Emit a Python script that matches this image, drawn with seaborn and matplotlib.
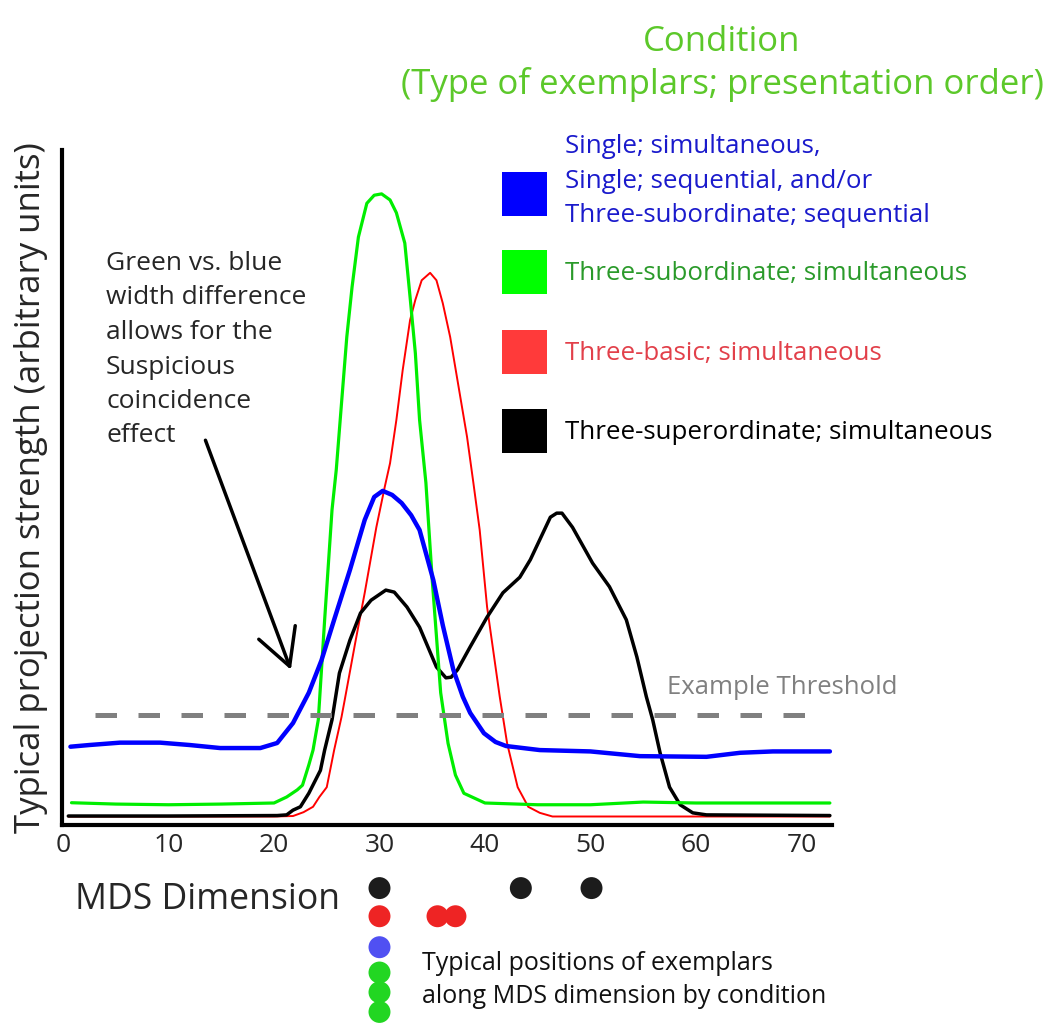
import numpy as np
import pandas as pd
import matplotlib
matplotlib.use("Agg")
import matplotlib.pyplot as plt
import seaborn as sns
from matplotlib.patches import Patch, Rectangle
from matplotlib.legend_handler import HandlerPatch

sns.set_style("white")
plt.rcParams['font.family'] = ['Open Sans', 'DejaVu Sans']

# Curves (MDS dimension vs projection strength, arbitrary units 0-100)
blue_x = [0.7, 2.5, 5.4, 9.2, 12, 14.9, 18.7, 20.3, 21.8, 23.3, 24.5, 25.7, 27.2, 28.6, 29.5,
          30.3, 31.2, 32.1, 33.0, 33.8, 35.1, 36.0, 37.0, 37.9, 38.6, 39.9, 41.0, 42.0, 45.2,
          50, 54.7, 61, 64.2, 67.3, 72.7]
blue_y = [11.6, 11.85, 12.2, 12.2, 11.85, 11.4, 11.4, 12.15, 15.1, 19.6, 24.4, 30.4, 37.8, 45.2, 48.6,
          49.5, 48.9, 47.7, 45.9, 43.7, 36.3, 29.6, 23.0, 19.0, 16.6, 13.6, 12.3, 11.7, 11.1,
          10.9, 10.2, 10.1, 10.7, 10.9, 10.9]

green_x = [0.8, 5, 10, 15, 20, 21.2, 22.2, 22.7, 23.3, 23.7, 24.2, 24.8, 25.5, 25.9, 26.4, 26.9,
           27.4, 28.0, 28.8, 29.5, 30.2, 31.0, 31.6, 32.4, 32.9, 33.4, 33.8, 34.4, 35.0, 35.8,
           36.5, 37.2, 38.0, 40, 45, 50, 55, 60, 72.7]
green_y = [3.3, 3.1, 3.0, 3.1, 3.26, 4.15, 5.2, 5.9, 8.9, 11.1, 15.6, 30.4, 46.7, 52.6, 62.5, 72.3,
           79.7, 87.1, 92.1, 93.3, 93.5, 92.6, 90.7, 86.2, 78.2, 69.9, 60.0, 50.7, 36.3, 19.6,
           12.1, 7.4, 4.7, 3.26, 3.0, 3.0, 3.4, 3.26, 3.26]

red_x = [0.5, 10, 20, 21.8, 22.8, 23.7, 24.3, 25.0, 25.7, 26.4, 26.7, 27.7, 28.6, 29.7, 30.5,
         31.0, 31.6, 32.2, 32.9, 33.4, 34.0, 34.8, 35.4, 36.0, 36.7, 37.5, 38.3, 38.9, 39.5,
         40.2, 41.4, 42.1, 43.1, 44.1, 45.2, 46.4, 60, 72.7]
red_y = [1.26, 1.26, 1.26, 1.33, 1.9, 2.7, 4.15, 5.6, 11.1, 16.0, 18.5, 27.0, 34.4, 44.1, 50.1,
         53.6, 60.0, 67.4, 74.8, 77.8, 80.7, 81.8, 80.7, 77.3, 72.3, 64.9, 57.5, 50.7, 43.7,
         32.3, 19.0, 12.1, 5.6, 2.7, 1.8, 1.26, 1.26, 1.26]

black_x = [0.5, 10, 20.3, 21.2, 21.8, 22.5, 23.3, 24.4, 24.8, 25.5, 26.2, 27.2, 28.2, 29.2, 30.6,
           31.4, 32.6, 33.8, 35.4, 36.3, 36.8, 37.4, 38.6, 40.2, 41.7, 43.3, 44.3, 46.2, 46.8,
           47.3, 48.3, 50.2, 51.8, 53.4, 54.4, 55.3, 55.9, 56.6, 57.5, 58.5, 59.7, 61, 72.7]
black_y = [1.33, 1.33, 1.4, 1.5, 2.2, 2.7, 4.7, 8.1, 11.1, 15.6, 22.5, 27.4, 31.4, 33.3, 34.8,
           34.5, 32.3, 29.3, 23.4, 21.8, 21.9, 23.0, 26.4, 30.8, 34.4, 36.7, 39.3, 45.6, 46.2,
           46.2, 44.1, 38.8, 35.3, 30.4, 24.9, 19.0, 15.6, 10.7, 5.6, 3.0, 1.8, 1.5, 1.4]

threshold = 16.3
threshold_span = (3.0, 71.0)

# Typical exemplar positions per condition (rows below the x axis)
dot_x = [30, 43.4, 50.1, 30, 35.5, 37.2, 30, 30, 30, 30]
dot_row = [0, 0, 0, 1, 1, 1, 2.1, 3.0, 3.7, 4.4]
dot_cond = ['black', 'black', 'black', 'red', 'red', 'red', 'blue', 'green', 'green', 'green']
dot_colors = {'black': '#1c1c1c', 'red': '#ee2424', 'blue': '#5050f2', 'green': '#22d622'}

legend_labels = ['Single; simultaneous,\nSingle; sequential, and/or\nThree-subordinate; sequential',
                 'Three-subordinate; simultaneous',
                 'Three-basic; simultaneous',
                 'Three-superordinate; simultaneous']
legend_colors = ['#0000ff', '#00ff00', '#ff3a3a', '#000000']
legend_text_colors = ['#1a1acc', '#2a9a2a', '#e2404a', '#000000']

fig = plt.figure(figsize=(10.5, 10.24), dpi=100)
ax = fig.add_axes([62 / 1050, 199 / 1024, 770 / 1050, 675 / 1024])

sns.lineplot(x=red_x, y=red_y, ax=ax, color='#ff0000', lw=1.4, sort=False)
sns.lineplot(x=black_x, y=black_y, ax=ax, color='black', lw=2.5, sort=False)
sns.lineplot(x=green_x, y=green_y, ax=ax, color='#00ee00', lw=2.3, sort=False)
sns.lineplot(x=blue_x, y=blue_y, ax=ax, color='#0000ff', lw=3.2, sort=False)

ax.hlines(threshold, threshold_span[0], threshold_span[1], colors='#808080', lw=3.6,
          linestyles=(0, (4.3, 4.3)))
ax.text(57.3, threshold + 4.1, 'Example Threshold', color='#808080', fontsize=18.5,
        va='center', ha='left', clip_on=False)

ax.set_xlim(-0.1, 72.9)
ax.set_ylim(0, 100)
ax.set_xticks(range(0, 80, 10))
ax.set_yticks([])
ax.tick_params(axis='x', direction='in', length=8, width=2, labelsize=19, pad=6)
for s in ['top', 'right']:
    ax.spines[s].set_visible(False)
for s in ['left', 'bottom']:
    ax.spines[s].set_linewidth(3)
    ax.spines[s].set_color('black')
ax.set_xlabel('')
ax.set_ylabel('Typical projection strength (arbitrary units)', fontsize=25, labelpad=10)

# annotation
ax.annotate('', xy=(21.6, 23.0), xytext=(13.5, 57.0),
            arrowprops=dict(arrowstyle='->,head_length=1.3,head_width=0.7', lw=2.5,
                            color='black', mutation_scale=20, shrinkA=0, shrinkB=0))
fig.text(106 / 1050, 1 - 251 / 1024,
         'Green vs. blue\nwidth difference\nallows for the\nSuspicious\ncoincidence\neffect',
         fontsize=19, va='top', ha='left', linespacing=1.5)


# the blue square sits a little below the middle of its three-line label
def low_square(legend, orig_handle, xdescent, ydescent, width, height, fontsize):
    return Rectangle((-xdescent, -ydescent - 8.6), width, height)


# legend: blue entry separately (three-line label), then the other three
handles = [Patch(facecolor=c, edgecolor='none') for c in legend_colors]
leg_kw = dict(loc='upper left', frameon=False, fontsize=18.6, handlelength=1.74,
              handleheight=2.24, handletextpad=0.7)
leg1 = fig.legend(handles[:1], legend_labels[:1], bbox_to_anchor=(479 / 1050, 1 - 111 / 1024),
                  handler_map={Patch: HandlerPatch(patch_func=low_square)}, **leg_kw)
leg1.get_texts()[0].set_color(legend_text_colors[0])
leg1.get_texts()[0].set_linespacing(1.49)
leg2 = fig.legend(handles[1:], legend_labels[1:], bbox_to_anchor=(479 / 1050, 1 - 227 / 1024),
                  labelspacing=1.37, **leg_kw)
for t, c in zip(leg2.get_texts(), legend_text_colors[1:]):
    t.set_color(c)

fig.text(722 / 1050, 1 - 42 / 1024, 'Condition', color='#5cc82a', fontsize=25,
         ha='center', va='center')
fig.text(722 / 1050, 1 - 85 / 1024, '(Type of exemplars; presentation order)', color='#5cc82a',
         fontsize=25, ha='center', va='center')

# exemplar positions
ax2 = fig.add_axes([62 / 1050, 0.0, 770 / 1050, 154 / 1024])
dots = pd.DataFrame({'x': dot_x, 'row': dot_row, 'cond': dot_cond})
sns.scatterplot(data=dots, x='x', y='row', hue='cond', palette=dot_colors, s=250,
                edgecolor='none', legend=False, ax=ax2)
ax2.set_xlim(ax.get_xlim())
ax2.set_ylim(4.4 + 12 / 28, -18 / 28)
ax2.axis('off')

fig.text(75 / 1050, 1 - 900 / 1024, 'MDS Dimension', fontsize=25.6, va='center', ha='left')
fig.text(422 / 1050, 1 - 980 / 1024, 'Typical positions of exemplars\nalong MDS dimension by condition',
         fontsize=18, va='center', ha='left', linespacing=1.45, color='#111111')

fig.savefig('out.png', dpi=100)
